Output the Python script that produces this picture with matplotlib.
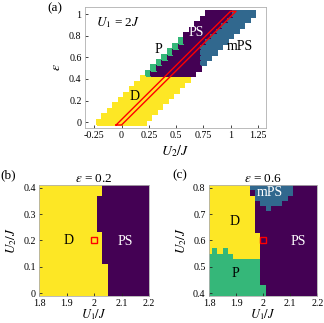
import numpy as np
import matplotlib
matplotlib.use("Agg")
import matplotlib.pyplot as plt
from matplotlib.colors import ListedColormap

plt.rcParams['font.family'] = ['Liberation Serif', 'DejaVu Serif']
plt.rcParams['mathtext.fontset'] = 'stix'

# phases: S = PS, M = mPS, P = P, D = D
phase_codes = {'S': 0, 'M': 1, 'P': 2, 'D': 3}
phase_colors = ['#440154', '#31688e', '#35b779', '#fde725']

# (a) U1 = 2J, rows eps = 0 .. 1, each row has 9 cells at U2 = eps - 0.2 ... eps + 0.2
a_eps = [0.0, 0.05, 0.1, 0.15, 0.2, 0.25, 0.3, 0.35, 0.4, 0.45, 0.5,
         0.55, 0.6, 0.65, 0.7, 0.75, 0.8, 0.85, 0.9, 0.95, 1.0]
a_offsets = [-0.2, -0.15, -0.1, -0.05, 0.0, 0.05, 0.1, 0.15, 0.2]
a_rows = [
    'DDDDDDDDD', 'DDDDDDDDD', 'DDDDDDDDD', 'DDDDDDDDD', 'DDDDDDDDD',
    'DDDDDDDDD', 'DDDDDDDDD', 'DDDDDDDDD', 'DDDDDDDDD',
    'PSSSSSSSS', 'PSSSSSSSS', 'PSSSSSSSM', 'PSSSSSSMM', 'PSSSSSMMM',
    'PSSSSMMMM', 'PSSSSMMMM',
    'SSSSSMMMM', 'SSSSSMMMM', 'SSSSSMMMM', 'SSSSSMMMM', 'SSSSSMMMM',
]
cut_u2 = [-0.05, 0.0, 1.05, 1.0, -0.05]
cut_eps = [-0.025, -0.025, 1.025, 1.025, -0.025]

# (b) eps = 0.2 : U1 grid and the U1 where PS starts on each U2 row
bc_u1 = [1.80, 1.82, 1.84, 1.86, 1.88, 1.90, 1.92, 1.94, 1.96, 1.98, 2.00,
         2.02, 2.04, 2.06, 2.08, 2.10, 2.12, 2.14, 2.16, 2.18, 2.20]
b_u2 = [0.0, 0.02, 0.04, 0.06, 0.08, 0.1, 0.12, 0.14, 0.16, 0.18, 0.2,
        0.22, 0.24, 0.26, 0.28, 0.3, 0.32, 0.34, 0.36, 0.38, 0.4]
b_ps_start = [2.06, 2.06, 2.06, 2.06, 2.06, 2.06,
              2.04, 2.04, 2.04, 2.04, 2.04, 2.04,
              2.02, 2.02, 2.02, 2.02, 2.02, 2.02, 2.02,
              2.04, 2.04]
b_point = (2.0, 0.2)

# (c) eps = 0.6 : rows from U2 = 0.8 (top) down to 0.4
c_u2 = [0.8, 0.78, 0.76, 0.74, 0.72, 0.7, 0.68, 0.66, 0.64, 0.62, 0.6,
        0.58, 0.56, 0.54, 0.52, 0.5, 0.48, 0.46, 0.44, 0.42, 0.4]
c_rows = [
    'DDDDDDDDMMMMMMMMSSSSS',
    'DDDDDDDDSMMMMMMMSSSSS',
    'DDDDDDDDDMMMMMMSSSSSS',
    'DDDDDDDDDSMMMMSSSSSSS',
    'DDDDDDDDDSSMSSSSSSSSS',
    'DDDDDDDDDSSSSSSSSSSSS',
    'DDDDDDDDDSSSSSSSSSSSS',
    'DDDDDDDDDSSSSSSSSSSSS',
    'DDDDDDDDDSSSSSSSSSSSS',
    'DDDDDDDDDDSSSSSSSSSSS',
    'DDDDDDDDDDSSSSSSSSSSS',
    'DDDDDDDDDDSSSSSSSSSSS',
    'DPDPDDDDDDSSSSSSSSSSS',
    'PPPPPDDDDDSSSSSSSSSSS',
    'PPPPPPPPPPSSSSSSSSSSS',
    'PPPPPPPPPPSSSSSSSSSSS',
    'PPPPPPPPPPSSSSSSSSSSS',
    'PPPPPPPPPPSSSSSSSSSSS',
    'PPPPPPPPPPSSSSSSSSSSS',
    'PPPPPPPPPPPSSSSSSSSSS',
    'PPPPPPPPPPPSSSSSSSSSS',
]
c_point = (2.0, 0.6)

cmap = ListedColormap(phase_colors)


def edges(centers):
    c = np.asarray(centers, dtype=float)
    step = c[1] - c[0]
    return np.append(c - step / 2, c[-1] + step / 2)


def style(ax):
    for s in ax.spines.values():
        s.set_color('#b0b0b0')
        s.set_linewidth(0.6)
    ax.tick_params(direction='in', length=2.5, width=0.6, color='#262626',
                   labelsize=7.2, pad=2.5)


fig = plt.figure(figsize=(3.24, 3.23), dpi=100)

# ---------- panel (a)
ax = fig.add_axes([0.2623, 0.6046, 0.5586, 0.3728])
step = a_eps[1] - a_eps[0]
u2_cent = np.round(np.arange(a_eps[0] + a_offsets[0], a_eps[-1] + a_offsets[-1] + step / 2, step), 3)
Z = np.full((len(a_eps), len(u2_cent)), np.nan)
for r, row in enumerate(a_rows):
    for k, ch in enumerate(row):
        u2 = a_eps[r] + a_offsets[k]
        j = int(np.argmin(np.abs(u2_cent - u2)))
        Z[r, j] = phase_codes[ch]
Zm = np.ma.masked_invalid(Z)
ax.pcolormesh(edges(u2_cent), edges(a_eps), Zm, cmap=cmap, vmin=-0.5, vmax=3.5,
              edgecolors='face', linewidth=0.2)
ax.plot(cut_u2, cut_eps, color='red', lw=1.0)
ax.set_xlim(-0.335, 1.325)
ax.set_ylim(-0.05, 1.062)
ax.set_xticks([-0.25, 0, 0.25, 0.5, 0.75, 1, 1.25])
ax.set_xticklabels(['-0.25', '0', '0.25', '0.5', '0.75', '1', '1.25'])
ax.set_yticks([0, 0.2, 0.4, 0.6, 0.8, 1])
ax.set_yticklabels(['0', '0.2', '0.4', '0.6', '0.8', '1'])
ax.set_xlabel(r'$U_2/J$', fontsize=10, labelpad=2)
ax.set_ylabel(r'$\varepsilon$', fontsize=10, labelpad=4)
style(ax)
ax.text(-0.23, 0.92, r'$U_1$ = 2$J$', fontsize=9.5, ha='left', va='center')
ax.text(0.335, 0.67, 'P', fontsize=10, ha='center', va='center', color='black')
ax.text(0.69, 0.825, 'PS', fontsize=10, ha='center', va='center', color='white')
ax.text(1.087, 0.70, 'mPS', fontsize=10, ha='center', va='center', color='black')
ax.text(0.124, 0.236, 'D', fontsize=10, ha='center', va='center', color='black')
fig.text(47 / 324, 1 - 8 / 323, '(a)', fontsize=9.5, ha='left', va='center')

# ---------- panel (b)
ax = fig.add_axes([0.1213, 0.0845, 0.3386, 0.3427])
Zb = np.zeros((len(b_u2), len(bc_u1)))
for r in range(len(b_u2)):
    for i, u1 in enumerate(bc_u1):
        Zb[r, i] = phase_codes['S'] if u1 >= b_ps_start[r] - 1e-9 else phase_codes['D']
ax.pcolormesh(edges(bc_u1), edges(b_u2), Zb, cmap=cmap, vmin=-0.5, vmax=3.5)
ax.plot(*b_point, marker='s', ms=4.2, mfc='none', mec='red', mew=1.0)
ax.set_xlim(1.8, 2.2)
ax.set_ylim(-0.01, 0.41)
ax.set_xticks([1.8, 1.9, 2.0, 2.1, 2.2])
ax.set_xticklabels(['1.8', '1.9', '2', '2.1', '2.2'])
ax.set_yticks([0, 0.1, 0.2, 0.3, 0.4])
ax.set_yticklabels(['0', '0.1', '0.2', '0.3', '0.4'])
ax.set_xlabel(r'$U_1/J$', fontsize=9)
ax.xaxis.set_label_coords(0.5, -0.105)
ax.set_ylabel(r'$U_2/J$', fontsize=9.5, labelpad=3)
ax.set_title(r'$\varepsilon$ = 0.2', fontsize=9.5, pad=2)
style(ax)
ax.text(1.905, 0.2, 'D', fontsize=10, ha='center', va='center', color='black')
ax.text(2.113, 0.197, 'PS', fontsize=10, ha='center', va='center', color='white')
fig.text(0 / 324, 1 - 175 / 323, '(b)', fontsize=9.5, ha='left', va='center')

# ---------- panel (c)
ax = fig.add_axes([0.6451, 0.0836, 0.3343, 0.3437])
Zc = np.array([[phase_codes[ch] for ch in row] for row in c_rows], dtype=float)
ax.pcolormesh(edges(bc_u1), edges(c_u2[::-1]), Zc[::-1], cmap=cmap, vmin=-0.5, vmax=3.5)
ax.plot(*c_point, marker='s', ms=4.2, mfc='none', mec='red', mew=1.0)
ax.set_xlim(1.8, 2.2)
ax.set_ylim(0.39, 0.81)
ax.set_xticks([1.8, 1.9, 2.0, 2.1, 2.2])
ax.set_xticklabels(['1.8', '1.9', '2', '2.1', '2.2'])
ax.set_yticks([0.4, 0.5, 0.6, 0.7, 0.8])
ax.set_yticklabels(['0.4', '0.5', '0.6', '0.7', '0.8'])
ax.set_xlabel(r'$U_1/J$', fontsize=9)
ax.xaxis.set_label_coords(0.5, -0.105)
ax.set_ylabel(r'$U_2/J$', fontsize=9.5, labelpad=3)
ax.set_title(r'$\varepsilon$ = 0.6', fontsize=9.5, pad=2)
style(ax)
ax.text(1.896, 0.672, 'D', fontsize=10, ha='center', va='center', color='black')
ax.text(2.023, 0.781, 'mPS', fontsize=10, ha='center', va='center', color='white')
ax.text(2.13, 0.598, 'PS', fontsize=10, ha='center', va='center', color='white')
ax.text(1.896, 0.474, 'P', fontsize=10, ha='center', va='center', color='black')
fig.text(172 / 324, 1 - 175 / 323, '(c)', fontsize=9.5, ha='left', va='center')

fig.savefig('out.png', dpi=100)
